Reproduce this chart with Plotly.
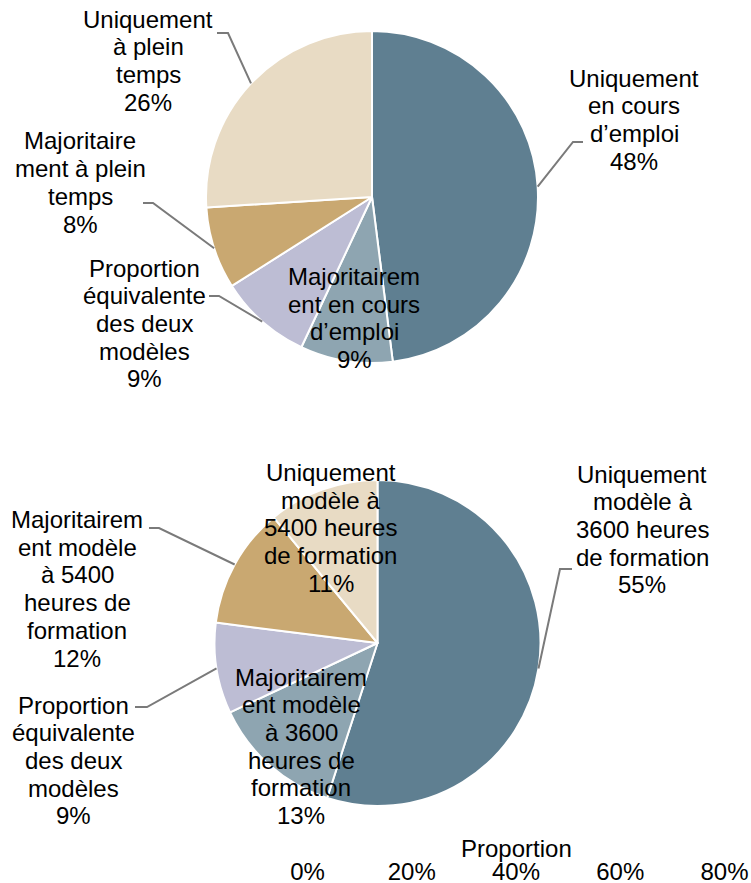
import numpy as np
import plotly.graph_objects as go

W, H = 751, 883
FONT = 'Arial, Liberation Sans, sans-serif'
FONT_SIZE = 24
LINE_STEP = 27.7
LEADER_COLOR = '#7a7a7a'
SLICE_COLORS = ['#5f7f91', '#8ea5b1', '#bdbdd4', '#c9a871', '#e8dbc4']

# --- data ---------------------------------------------------------------
# pie 1 : cours d'emploi / plein temps
emploi_labels = [
    'Uniquement<br>en cours<br>d’emploi',
    'Majoritairem<br>ent en cours<br>d’emploi',
    'Proportion<br>équivalente<br>des deux<br>modèles',
    'Majoritaire<br>ment à plein<br>temps',
    'Uniquement<br>à plein<br>temps',
]
emploi_values = [48, 9, 9, 8, 26]

# pie 2 : modele 3600 / 5400 heures
heures_labels = [
    'Uniquement<br>modèle à<br>3600 heures<br>de formation',
    'Majoritairem<br>ent modèle<br>à 3600<br>heures de<br>formation',
    'Proportion<br>équivalente<br>des deux<br>modèles',
    'Majoritairem<br>ent modèle<br>à 5400<br>heures de<br>formation',
    'Uniquement<br>modèle à<br>5400 heures<br>de formation',
]
heures_values = [55, 13, 9, 12, 11]

proportion_ticks = [0, 0.2, 0.4, 0.6, 0.8]

# --- layout of each pie (pixels, from top-left) -------------------------
# label: (center x, y of first line), leader: (start, elbow) or None
emploi_layout = dict(
    center=(372, 197), radius=166,
    labels=[(634, 78), (354, 276.5), (144.5, 268), (80, 141), (148, 19)],
    leaders=[((583, 142), (573, 142)), None, ((209, 296), (219, 296)),
             ((143, 203), (153, 203)), ((217, 33), (228, 33))],
)
heures_layout = dict(
    center=(377.5, 643), radius=163,
    labels=[(642, 474), (301, 677), (73.5, 705), (77, 519.5), (330.5, 472.5)],
    leaders=[((572, 569), (560, 569)), None, ((135, 707), (147, 707)),
             ((149, 528), (159, 528)), None],
)

AXIS_Y = 855  # pixel row of the (invisible) proportion axis


def px(x, y):
    return x / W, 1 - y / H


def add_text(fig, x, y, text):
    x, y = px(x, y)
    fig.add_annotation(
        x=x, y=y, xref='paper', yref='paper',
        text=text, showarrow=False,
        xanchor='center', yanchor='middle',
        font=dict(family=FONT, size=FONT_SIZE, color='black'),
    )


def add_pie(fig, labels, values, lay):
    cx, cy = lay['center']
    r = lay['radius']
    fig.add_trace(go.Pie(
        labels=labels,
        values=values,
        sort=False,
        direction='clockwise',
        rotation=0,
        textinfo='none',
        hoverinfo='label+percent',
        marker=dict(colors=SLICE_COLORS, line=dict(color='white', width=2)),
        domain=dict(x=[(cx - r) / W, (cx + r) / W],
                    y=[1 - (cy + r) / H, 1 - (cy - r) / H]),
        showlegend=False,
    ))

    total = float(sum(values))
    cum = np.cumsum([0] + list(values))
    for i, (lab, val) in enumerate(zip(labels, values)):
        # label, one annotation per line to get the tight line spacing
        lx, ly = lay['labels'][i]
        lines = lab.split('<br>') + ['%d%%' % val]
        for k, line in enumerate(lines):
            add_text(fig, lx, ly + k * LINE_STEP, line)

        # leader line ends on the pie edge at the middle of the slice
        if lay['leaders'][i] is None:
            continue
        mid = (cum[i] + val / 2) / total * 2 * np.pi
        ex, ey = cx + r * np.sin(mid), cy - r * np.cos(mid)
        (sx, sy), (bx, by) = lay['leaders'][i]
        pts = [px(sx, sy), px(bx, by), px(ex, ey)]
        path = 'M %f,%f L %f,%f L %f,%f' % tuple(v for p in pts for v in p)
        fig.add_shape(type='path', path=path, xref='paper', yref='paper',
                      line=dict(color=LEADER_COLOR, width=2))


fig = go.Figure()
add_pie(fig, emploi_labels, emploi_values, emploi_layout)
add_pie(fig, heures_labels, heures_values, heures_layout)

# empty proportion axis left at the bottom of the original chart
fig.add_trace(go.Scatter(x=[], y=[], showlegend=False))
add_text(fig, 516, 848, 'Proportion')

fig.update_layout(
    width=W,
    height=H,
    margin=dict(l=0, r=0, t=0, b=0, pad=0, autoexpand=False),
    paper_bgcolor='white',
    plot_bgcolor='white',
    font=dict(family=FONT, size=FONT_SIZE, color='black'),
    xaxis=dict(
        domain=[307.5 / W, 724.5 / W],
        range=[0, 0.8],
        side='bottom',
        tickvals=proportion_ticks,
        tickformat='.0%',
        ticks='',
        showgrid=False,
        zeroline=False,
        showline=False,
        automargin=False,
        tickfont=dict(family=FONT, size=FONT_SIZE, color='black'),
    ),
    yaxis=dict(domain=[1 - AXIS_Y / H, 1 - AXIS_Y / H + 0.005], visible=False),
)

# drop the default 8px page margin so the figure sits at the window corner
fig.write_html('out.html', config={'displayModeBar': False},
               post_script="document.body.style.margin='0';")
